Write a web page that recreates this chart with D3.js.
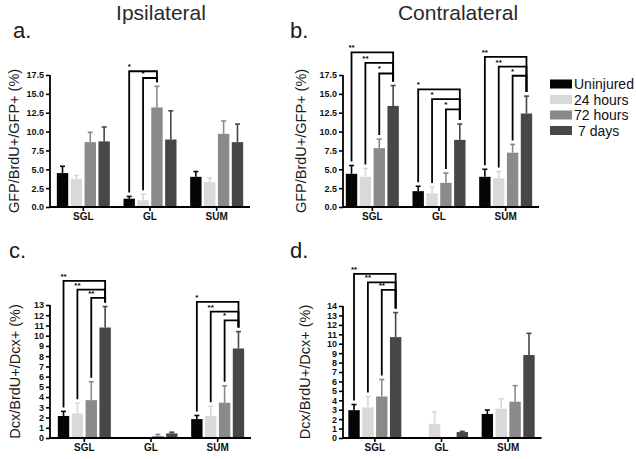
<!DOCTYPE html>
<html>
<head>
<meta charset="utf-8">
<script src="https://cdn.jsdelivr.net/npm/d3@7"></script>
<style>
  body { margin: 0; background: #fff; }
  svg { font-family: "Liberation Sans", Arial, Helvetica, sans-serif; }
</style>
</head>
<body>
<svg id="chart" width="636" height="459"></svg>
<script>
// Categories and series
const categories = ["SGL", "GL", "SUM"]
const seriesNames = ["Uninjured", "24 hours", "72 hours", "7 days"]
const seriesColors = ["#050505", "#d9d9d9", "#8a8a8a", "#474747"]

// a. Ipsilateral GFP/BrdU+/GFP+ (mean, SEM) per category, per series
const ipsiGfpMean = [[4.5, 3.7, 8.6, 8.7], [1.1, 0.9, 13.2, 8.95], [4.0, 3.3, 9.7, 8.6]]
const ipsiGfpErr = [[0.9, 0.5, 1.3, 1.9], [0.3, 0.8, 2.8, 3.8], [0.7, 0.55, 1.7, 2.4]]
// b. Contralateral GFP/BrdU+/GFP+
const contraGfpMean = [[4.4, 4.0, 7.8, 13.4], [2.1, 1.8, 3.2, 8.9], [4.0, 3.8, 7.2, 12.4]]
const contraGfpErr = [[1.1, 1.1, 1.2, 2.7], [0.65, 0.85, 1.3, 2.1], [1.0, 0.9, 1.1, 2.3]]
// c. Ipsilateral Dcx/BrdU+/Dcx+
const ipsiDcxMean = [[2.15, 2.4, 3.7, 10.8], [0, 0, 0.2, 0.45], [1.85, 2.15, 3.45, 8.75]]
const ipsiDcxErr = [[0.45, 1.0, 1.8, 2.05], [0, 0, 0.15, 0.12], [0.35, 0.95, 1.65, 1.65]]
// d. Contralateral Dcx/BrdU+/Dcx+
const contraDcxMean = [[2.95, 3.25, 4.4, 10.7], [0, 1.5, 0, 0.63], [2.55, 3.1, 3.85, 8.8]]
const contraDcxErr = [[0.6, 1.15, 1.8, 2.6], [0, 1.25, 0, 0.07], [0.42, 1.05, 1.7, 2.3]]

// Significance brackets: [category, from series, to series, bracket level (data units), label]
const sigA = [["GL", 0, 2, 18.0, "*"], ["GL", 1, 2, 17.1, "*"]]
const sigB = [
  ["SGL", 0, 3, 20.5, "**"], ["SGL", 1, 3, 19.1, "**"], ["SGL", 2, 3, 17.7, "*"],
  ["GL", 0, 3, 15.6, "*"], ["GL", 1, 3, 14.3, "*"], ["GL", 2, 3, 12.95, "*"],
  ["SUM", 0, 3, 19.9, "**"], ["SUM", 1, 3, 18.6, "**"], ["SUM", 2, 3, 17.4, "*"]
]
const sigC = [
  ["SGL", 0, 3, 15.35, "**"], ["SGL", 1, 3, 14.5, "**"], ["SGL", 2, 3, 13.7, "**"],
  ["SUM", 0, 3, 13.3, "*"], ["SUM", 1, 3, 12.35, "**"], ["SUM", 2, 3, 11.5, "*"]
]
const sigD = [["SGL", 0, 3, 17.4, "**"], ["SGL", 1, 3, 16.5, "**"], ["SGL", 2, 3, 15.7, "**"]]

// Tick values
const gfpTicks = [0, 2.5, 5, 7.5, 10, 12.5, 15, 17.5]
const dcxTicksC = d3.range(0, 14)
const dcxTicksD = d3.range(0, 15)

const svg = d3.select("#chart")

// Column titles
svg.append("text").attr("x", 161).attr("y", 20).attr("text-anchor", "middle")
  .style("font-size", "21px").style("fill", "#2a2a2a").text("Ipsilateral")
svg.append("text").attr("x", 458).attr("y", 20).attr("text-anchor", "middle")
  .style("font-size", "21px").style("fill", "#2a2a2a").text("Contralateral")

function drawPanel(cfg) {
  const g = svg.append("g")
  const x = d3.scaleBand().domain(categories).range(cfg.xRange)
  const inner = d3.scaleBand().domain(d3.range(4)).range([-26.5, 26.5]).paddingInner(0.18)
  const y = d3.scaleLinear().domain([0, cfg.yMax]).range(cfg.yRange)
  const barX = (ci, si) => x(categories[ci]) + x.bandwidth() / 2 + inner(si)

  // Panel letter
  g.append("text").attr("x", cfg.letterPos[0]).attr("y", cfg.letterPos[1])
    .style("font-size", "22px").style("fill", "#1a1a1a").text(cfg.letter)

  // Y title
  g.append("text")
    .attr("transform", `translate(${cfg.titleX},${(cfg.yRange[0] + cfg.yRange[1]) / 2}) rotate(-90)`)
    .attr("text-anchor", "middle").style("font-size", "14.5px").style("fill", "#1a1a1a")
    .text(cfg.yTitle)

  // Bars and error bars
  const rows = []
  cfg.mean.forEach((vals, ci) => vals.forEach((v, si) => rows.push({ ci, si, v, e: cfg.err[ci][si] })))
  const bw = inner.bandwidth()
  g.selectAll("rect.bar").data(rows.filter((d) => d.v > 0)).join("rect")
    .attr("x", (d) => barX(d.ci, d.si))
    .attr("y", (d) => y(d.v))
    .attr("width", bw)
    .attr("height", (d) => y(0) - y(d.v))
    .attr("fill", (d) => seriesColors[d.si])
  const eb = g.selectAll("g.err").data(rows.filter((d) => d.e > 0)).join("g")
    .attr("stroke", (d) => seriesColors[d.si]).attr("stroke-width", 1.6)
  eb.append("line")
    .attr("x1", (d) => barX(d.ci, d.si) + bw / 2).attr("x2", (d) => barX(d.ci, d.si) + bw / 2)
    .attr("y1", (d) => y(d.v)).attr("y2", (d) => y(d.v + d.e))
  eb.append("line")
    .attr("x1", (d) => barX(d.ci, d.si) + bw / 2 - 2.5).attr("x2", (d) => barX(d.ci, d.si) + bw / 2 + 2.5)
    .attr("y1", (d) => y(d.v + d.e)).attr("y2", (d) => y(d.v + d.e))

  // Y axis
  const yAxis = g.append("g").attr("transform", `translate(${cfg.axisX},0)`)
    .call(d3.axisLeft(y).tickValues(cfg.ticks).tickSize(4).tickPadding(2).tickFormat(cfg.fmt))
  yAxis.select(".domain").attr("d", `M0,${y(0)}V${y(cfg.ticks[cfg.ticks.length - 1])}`)
  yAxis.selectAll("line").attr("stroke-width", 1.6)
  yAxis.select(".domain").attr("stroke-width", 1.8)
  yAxis.selectAll("text").style("font-size", "9px").style("font-weight", "bold").attr("fill", "#111")

  // X axis
  const xAxis = g.append("g").attr("transform", `translate(0,${y(0)})`)
    .call(d3.axisBottom(x).tickSize(4).tickPadding(2))
  xAxis.select(".domain").attr("d", `M${cfg.axisX},0H${cfg.xRange[1]}`).attr("stroke-width", 1.8)
  xAxis.selectAll("line").attr("stroke-width", 1.6)
  xAxis.selectAll("text").style("font-size", "10px").style("font-weight", "bold").attr("fill", "#111")

  // Significance brackets
  const top = (ci, si) => y(cfg.mean[ci][si] + cfg.err[ci][si]) - 4
  cfg.sig.forEach(([cat, from, to, level, label]) => {
    const ci = categories.indexOf(cat)
    const x1 = barX(ci, from) + bw / 2
    const x2 = barX(ci, to) + bw / 2
    const yl = y(level)
    g.append("path")
      .attr("d", `M${x1},${top(ci, from)}V${yl}H${x2}V${top(ci, to)}`)
      .attr("fill", "none").attr("stroke", "#000").attr("stroke-width", 1.8)
    g.append("text").attr("x", x1).attr("y", yl - 2).attr("text-anchor", "middle")
      .style("font-size", "8px").style("font-weight", "bold").text(label)
  })
}

drawPanel({
  letter: "a.", letterPos: [13, 38], yTitle: "GFP/BrdU+/GFP+ (%)", titleX: 19,
  mean: ipsiGfpMean, err: ipsiGfpErr, sig: sigA,
  xRange: [50, 250], axisX: 50, yMax: 17.5, yRange: [207, 75], ticks: gfpTicks, fmt: d3.format(".1f")
})
drawPanel({
  letter: "b.", letterPos: [290, 38], yTitle: "GFP/BrdU+/GFP+ (%)", titleX: 306,
  mean: contraGfpMean, err: contraGfpErr, sig: sigB,
  xRange: [339, 539], axisX: 343, yMax: 17.5, yRange: [207, 75], ticks: gfpTicks, fmt: d3.format(".1f")
})
drawPanel({
  letter: "c.", letterPos: [9, 258], yTitle: "Dcx/BrdU+/Dcx+ (%)", titleX: 20,
  mean: ipsiDcxMean, err: ipsiDcxErr, sig: sigC,
  xRange: [51, 251], axisX: 50, yMax: 13, yRange: [438, 305], ticks: dcxTicksC, fmt: d3.format("d")
})
drawPanel({
  letter: "d.", letterPos: [290, 258], yTitle: "Dcx/BrdU+/Dcx+ (%)", titleX: 310,
  mean: contraDcxMean, err: contraDcxErr, sig: sigD,
  xRange: [341.5, 541.5], axisX: 343, yMax: 14, yRange: [438, 306], ticks: dcxTicksD, fmt: d3.format("d")
})

// Legend
const legend = svg.append("g").attr("transform", "translate(550,84)")
const items = legend.selectAll("g").data(seriesNames).join("g")
  .attr("transform", (d, i) => `translate(0,${i * 15.5})`)
items.append("rect").attr("x", 0).attr("y", -4.5).attr("width", 22).attr("height", 9)
  .attr("fill", (d, i) => seriesColors[i])
items.append("text").attr("x", (d, i) => (i === 3 ? 28 : 24)).attr("y", 5)
  .style("font-size", "14px").style("fill", "#111").text((d) => d)
</script>
</body>
</html>
